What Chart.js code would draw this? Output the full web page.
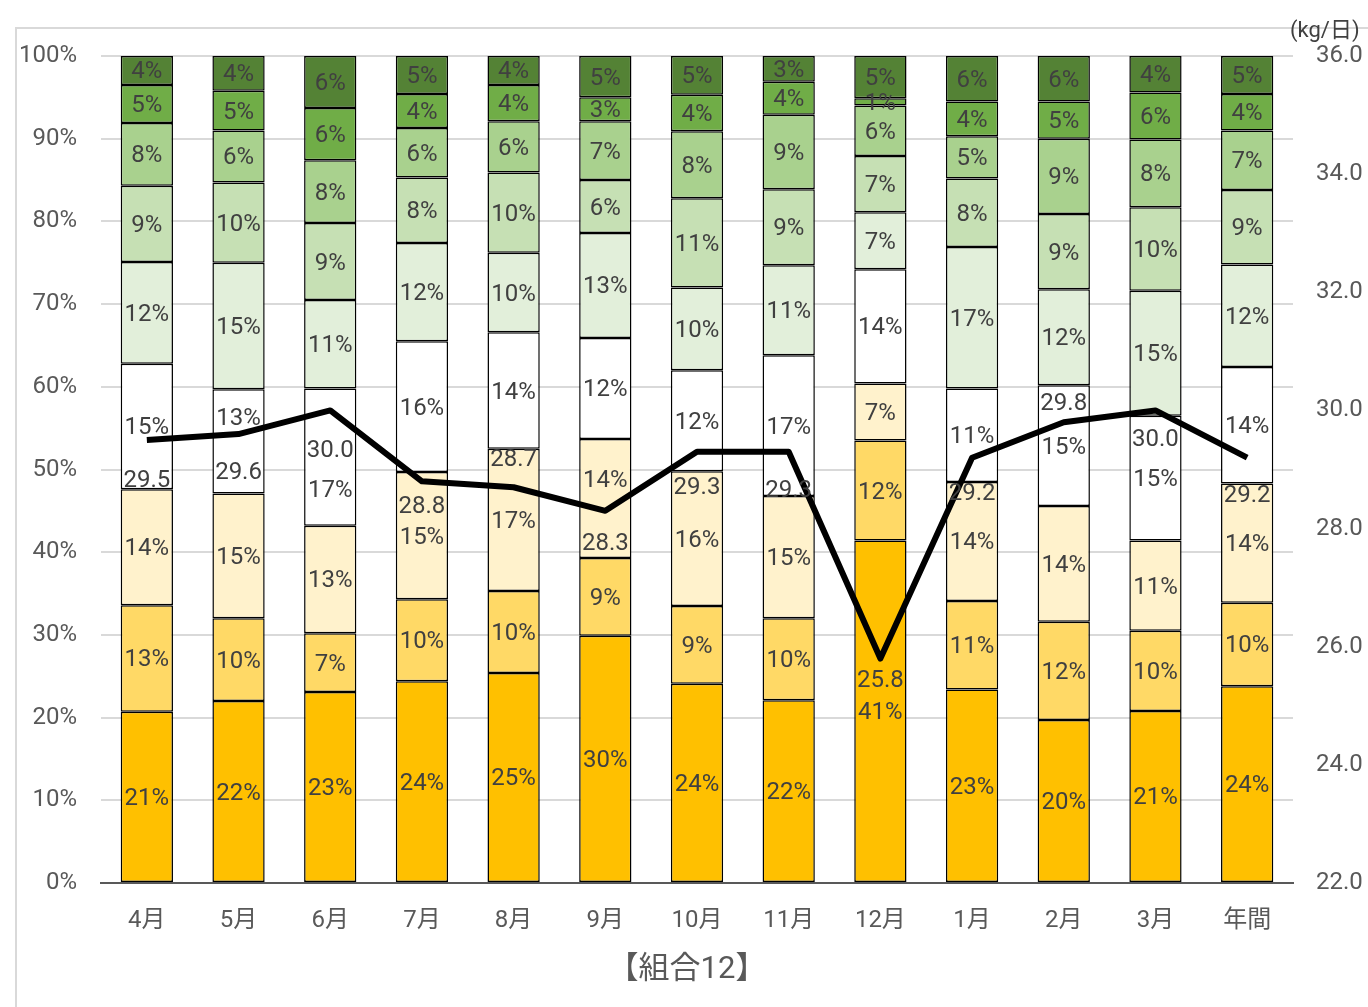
<!DOCTYPE html>
<html lang="ja">
<head>
<meta charset="utf-8">
<title>組合12</title>
<script src="https://cdn.jsdelivr.net/npm/chart.js@4.4.1/dist/chart.umd.min.js"></script>
<style>
  html, body { margin: 0; padding: 0; background: #fff; }
  #chart { display: block; }
</style>
</head>
<body>
<canvas id="chart" width="1368" height="1007"></canvas>
<script>
// months + annual total
const months = ['4月', '5月', '6月', '7月', '8月', '9月', '10月', '11月', '12月', '1月', '2月', '3月', '年間'];

// composition shares (%), bottom of the stack first
const share1 = [20.7, 22.0, 23.1, 24.4, 25.4, 29.9, 24.1, 22.1, 41.4, 23.4, 19.7, 20.8, 23.8];
const share2 = [12.9, 10.0, 7.1, 9.9, 9.9, 9.4, 9.4, 9.9, 12.1, 10.7, 11.9, 9.7, 10.1];
const share3 = [14.0, 15.1, 13.0, 15.4, 17.2, 14.4, 16.3, 14.8, 6.9, 14.4, 14.0, 10.9, 14.4];
const share4 = [15.2, 12.6, 16.6, 15.8, 14.1, 12.2, 12.2, 17.0, 13.8, 11.3, 14.6, 15.1, 14.1];
const share5 = [12.3, 15.3, 10.7, 11.9, 9.6, 12.7, 10.0, 10.9, 6.9, 17.1, 11.6, 15.1, 12.4];
const share6 = [9.2, 9.7, 9.3, 7.9, 9.7, 6.4, 10.8, 9.2, 6.8, 8.3, 9.1, 10.1, 9.0];
const share7 = [7.6, 6.3, 7.6, 6.0, 6.2, 7.1, 8.1, 9.0, 6.1, 5.1, 9.1, 8.2, 7.2];
const share8 = [4.6, 4.8, 6.3, 4.1, 4.4, 2.9, 4.4, 4.0, 0.9, 4.2, 4.5, 5.7, 4.4];
const share9 = [3.5, 4.2, 6.3, 4.6, 3.5, 5.0, 4.7, 3.1, 5.1, 5.5, 5.5, 4.4, 4.6];

// daily amount (kg/日), right axis
const dailyKg = [29.5, 29.6, 30.0, 28.8, 28.7, 28.3, 29.3, 29.3, 25.8, 29.2, 29.8, 30.0, 29.2];

const shares = [share1, share2, share3, share4, share5, share6, share7, share8, share9];
const colors = ['#FFC000', '#FFD966', '#FFF2CC', '#FFFFFF', '#E2EFDA', '#C6E0B4', '#A9D18E', '#70AD47', '#548235'];

// vertical nudges for a few labels that would collide (px)
const segShift = { '1-3': -24, '2-3': 32, '5-2': -19 };
const kgShift = [41, 39, 41, 26, -27, 33, 36, 39, 22, 36, -18, 30, 38];

const FONT = 'Roboto, "Noto Sans CJK JP", sans-serif';
const TEXT = '#404040';
const AXIS = '#595959';

const labelPlugin = {
  id: 'labelPlugin',
  beforeDraw(chart) {
    const ctx = chart.ctx;
    ctx.save();
    ctx.strokeStyle = '#d9d9d9';
    ctx.lineWidth = 2;
    ctx.strokeRect(16, 28, 1400, 1100);
    ctx.restore();
  },
  // segment labels go under the line
  beforeDatasetDraw(chart, args) {
    if (args.meta.type !== 'line') return;
    const ctx = chart.ctx;
    ctx.save();
    ctx.font = `24px ${FONT}`;
    ctx.fillStyle = TEXT;
    ctx.textAlign = 'center';
    ctx.textBaseline = 'middle';
    shares.forEach((arr, si) => {
      const meta = chart.getDatasetMeta(si);
      meta.data.forEach((bar, i) => {
        const dy = segShift[i + '-' + si] || 0;
        ctx.fillText(Math.round(arr[i]) + '%', bar.x, (bar.y + bar.base) / 2 + 2 + dy);
      });
    });
    ctx.restore();
  },
  afterDatasetsDraw(chart) {
    const ctx = chart.ctx;
    const lineMeta = chart.getDatasetMeta(shares.length);
    ctx.save();
    ctx.font = `24px ${FONT}`;
    ctx.fillStyle = TEXT;
    ctx.textAlign = 'center';
    ctx.textBaseline = 'middle';
    lineMeta.data.forEach((pt, i) => {
      ctx.fillText(dailyKg[i].toFixed(1), pt.x, pt.y + kgShift[i]);
    });

    // unit above the right axis
    ctx.font = `22px ${FONT}`;
    ctx.textAlign = 'left';
    ctx.fillText('(kg/日)', 1290, 31);

    // chart title under the month labels
    ctx.font = `31px ${FONT}`;
    ctx.fillStyle = AXIS;
    ctx.textAlign = 'center';
    ctx.fillText('【組合12】', 687, 970);
    ctx.restore();
  }
};

const datasets = shares.map((arr, i) => ({
  type: 'bar',
  label: '区分' + (i + 1),
  data: arr,
  backgroundColor: colors[i],
  borderColor: '#000',
  borderWidth: 1.5,
  borderSkipped: false,
  barPercentage: 0.57,
  categoryPercentage: 1,
  yAxisID: 'y',
  order: 1
}));

datasets.push({
  type: 'line',
  label: 'kg/日',
  data: dailyKg,
  borderColor: '#000',
  borderWidth: 6,
  pointRadius: 0,
  tension: 0,
  borderJoinStyle: 'round',
  yAxisID: 'y2',
  order: 0
});

new Chart(document.getElementById('chart'), {
  data: { labels: months, datasets },
  options: {
    responsive: false,
    animation: false,
    devicePixelRatio: 1,
    layout: { padding: { top: 56, left: 0, right: 0, bottom: 0 } },
    plugins: {
      legend: { display: false },
      tooltip: { enabled: false }
    },
    scales: {
      x: {
        stacked: true,
        grid: { display: false },
        border: { display: true, color: AXIS, width: 2 },
        ticks: { color: AXIS, font: { family: FONT, size: 24 }, padding: 16, maxRotation: 0 },
        afterFit(s) { s.height = 124; }
      },
      y: {
        stacked: true,
        min: 0,
        max: 100,
        ticks: {
          stepSize: 10,
          color: AXIS,
          font: { family: FONT, size: 24 },
          padding: 24,
          callback: v => v + '%'
        },
        grid: { color: '#d9d9d9', lineWidth: 2, drawTicks: false },
        border: { display: false },
        afterFit(s) { s.width = 101; }
      },
      y2: {
        position: 'right',
        min: 22,
        max: 36,
        ticks: {
          stepSize: 2,
          color: AXIS,
          font: { family: FONT, size: 24 },
          padding: 23,
          callback: v => v.toFixed(1)
        },
        grid: { drawOnChartArea: false, drawTicks: false },
        border: { display: false },
        afterFit(s) { s.width = 75; }
      }
    }
  },
  plugins: [labelPlugin]
});
</script>
</body>
</html>
